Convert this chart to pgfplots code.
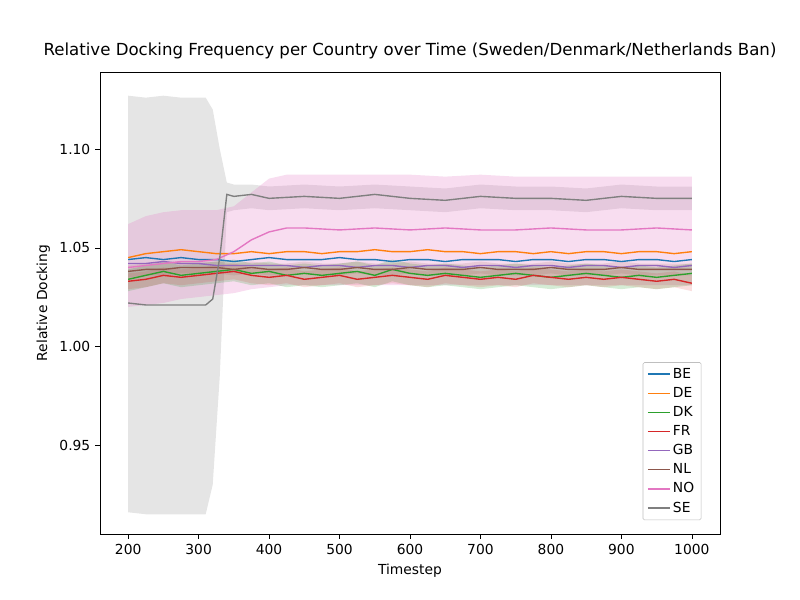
\documentclass[border=0pt]{standalone}
\usepackage{pgfplots}
\pgfplotsset{compat=1.18}
\usepackage{pgfplotstable}
\usepgfplotslibrary{fillbetween}
\usepackage{fontspec}
\setmainfont{DejaVu Sans}
\definecolor{tabblue}{HTML}{1F77B4}\definecolor{taborange}{HTML}{FF7F0E}\definecolor{tabgreen}{HTML}{2CA02C}
\definecolor{tabred}{HTML}{D62728}\definecolor{tabpurple}{HTML}{9467BD}\definecolor{tabbrown}{HTML}{8C564B}
\definecolor{tabpink}{HTML}{E377C2}\definecolor{tabgray}{HTML}{7F7F7F}
\pgfplotstableread{
x BE DE DK FR GB NL
200 1.044 1.045 1.034 1.033 1.042 1.038
225 1.045 1.047 1.036 1.034 1.042 1.039
250 1.044 1.048 1.038 1.036 1.043 1.039
275 1.045 1.049 1.036 1.035 1.042 1.040
300 1.044 1.048 1.037 1.036 1.042 1.040
325 1.044 1.047 1.038 1.037 1.041 1.040
350 1.043 1.047 1.039 1.038 1.041 1.039
375 1.044 1.048 1.037 1.036 1.041 1.040
400 1.045 1.047 1.038 1.035 1.041 1.039
425 1.044 1.048 1.036 1.036 1.041 1.039
450 1.044 1.048 1.037 1.034 1.040 1.040
475 1.044 1.047 1.036 1.035 1.041 1.039
500 1.045 1.048 1.037 1.036 1.041 1.039
525 1.044 1.048 1.038 1.034 1.040 1.040
550 1.044 1.049 1.036 1.035 1.041 1.039
575 1.043 1.048 1.039 1.036 1.041 1.039
600 1.044 1.048 1.037 1.035 1.040 1.040
625 1.044 1.049 1.036 1.034 1.041 1.039
650 1.043 1.048 1.037 1.036 1.041 1.039
675 1.044 1.048 1.036 1.035 1.040 1.039
700 1.044 1.047 1.035 1.034 1.041 1.040
725 1.044 1.048 1.036 1.035 1.041 1.039
750 1.043 1.048 1.037 1.034 1.040 1.039
775 1.044 1.047 1.036 1.036 1.041 1.039
800 1.044 1.048 1.035 1.035 1.041 1.040
825 1.043 1.047 1.036 1.034 1.040 1.039
850 1.044 1.048 1.037 1.035 1.041 1.039
875 1.044 1.048 1.036 1.034 1.041 1.039
900 1.043 1.047 1.035 1.035 1.040 1.040
925 1.044 1.048 1.036 1.034 1.041 1.039
950 1.044 1.048 1.035 1.033 1.041 1.039
975 1.043 1.047 1.036 1.034 1.040 1.039
1000 1.044 1.048 1.037 1.032 1.041 1.039
}\main
\pgfplotstableread{
x y lo hi
200 1.040 1.020 1.062
225 1.041 1.021 1.066
250 1.042 1.022 1.068
275 1.043 1.024 1.069
300 1.043 1.025 1.069
325 1.044 1.026 1.069
350 1.048 1.027 1.071
375 1.054 1.029 1.078
400 1.058 1.030 1.085
425 1.060 1.031 1.087
450 1.060 1.031 1.087
500 1.059 1.031 1.087
550 1.060 1.031 1.087
600 1.059 1.031 1.087
650 1.060 1.031 1.086
700 1.059 1.031 1.087
750 1.059 1.031 1.086
800 1.060 1.031 1.086
850 1.059 1.031 1.086
900 1.059 1.031 1.086
950 1.060 1.031 1.086
1000 1.059 1.031 1.086
}\NO
\pgfplotstableread{
x y lo hi
200 1.022 0.916 1.127
225 1.021 0.915 1.126
250 1.021 0.915 1.127
275 1.021 0.915 1.126
300 1.021 0.915 1.126
310 1.021 0.915 1.126
320 1.024 0.930 1.120
330 1.045 0.985 1.100
340 1.077 1.068 1.083
350 1.076 1.069 1.082
375 1.077 1.070 1.082
400 1.075 1.069 1.081
450 1.076 1.070 1.082
500 1.075 1.069 1.081
550 1.077 1.070 1.082
600 1.075 1.069 1.081
650 1.074 1.068 1.080
700 1.076 1.070 1.082
750 1.075 1.069 1.081
800 1.075 1.069 1.081
850 1.074 1.068 1.080
900 1.076 1.070 1.082
950 1.075 1.069 1.081
1000 1.075 1.069 1.081
}\SE
\begin{document}
\begin{tikzpicture}
\begin{axis}[scale only axis, width=6.2in, height=4.62in,
  xmin=160, xmax=1040, ymin=0.905, ymax=1.139,
  xtick={200,300,...,1000}, ytick={0.95,1.00,1.05,1.10},
  xticklabel style={/pgf/number format/.cd,1000 sep={}},
  yticklabel style={/pgf/number format/.cd,fixed,fixed zerofill,precision=2},
  /pgf/number format/assume math mode=true,
  tick align=outside, tick style={black}, major tick length=3.5pt,
  xtick pos=bottom, ytick pos=left,
  xlabel={Timestep}, ylabel={Relative Docking},
  title={\fontsize{12}{14}\selectfont Relative Docking Frequency per Country over Time (Sweden/Denmark/Netherlands Ban)},
  legend pos=south east, legend cell align=left,
  legend style={draw=black!25, rounded corners=1pt, row sep=1pt},
  legend image code/.code={\draw[#1,line width=1pt] (0cm,0cm) -- (0.55cm,0cm);},
  every axis plot/.append style={line width=1pt},
]
% bands
\addplot[draw=none, name path=seh, forget plot] table[x=x,y=hi]{\SE};
\addplot[draw=none, name path=sel, forget plot] table[x=x,y=lo]{\SE};
\addplot[tabgray, opacity=0.2, draw=none, forget plot] fill between[of=seh and sel];
\addplot[draw=none, name path=noh, forget plot] table[x=x,y=hi]{\NO};
\addplot[draw=none, name path=nol, forget plot] table[x=x,y=lo]{\NO};
\addplot[tabpink, opacity=0.25, draw=none, forget plot] fill between[of=noh and nol];
\addplot[draw=none, name path=dkh, forget plot] table[x=x,y expr=\thisrow{DK}+0.005]{\main};
\addplot[draw=none, name path=dkl, forget plot] table[x=x,y expr=\thisrow{DK}-0.006]{\main};
\addplot[tabgreen, opacity=0.2, draw=none, forget plot] fill between[of=dkh and dkl];
\addplot[draw=none, name path=frh, forget plot] table[x=x,y expr=\thisrow{FR}+0.004]{\main};
\addplot[draw=none, name path=frl, forget plot] table[x=x,y expr=\thisrow{FR}-0.004]{\main};
\addplot[tabred, opacity=0.15, draw=none, forget plot] fill between[of=frh and frl];
\addplot[draw=none, name path=nlh, forget plot] table[x=x,y expr=\thisrow{NL}+0.003]{\main};
\addplot[draw=none, name path=nll, forget plot] table[x=x,y expr=\thisrow{NL}-0.003]{\main};
\addplot[tabbrown, opacity=0.15, draw=none, forget plot] fill between[of=nlh and nll];
% lines
\addplot[color=tabblue] table[x=x,y=BE]{\main}; \addlegendentry{BE}
\addplot[color=taborange] table[x=x,y=DE]{\main}; \addlegendentry{DE}
\addplot[color=tabgreen] table[x=x,y=DK]{\main}; \addlegendentry{DK}
\addplot[color=tabred] table[x=x,y=FR]{\main}; \addlegendentry{FR}
\addplot[color=tabpurple] table[x=x,y=GB]{\main}; \addlegendentry{GB}
\addplot[color=tabbrown] table[x=x,y=NL]{\main}; \addlegendentry{NL}
\addplot[color=tabpink] table[x=x,y=y]{\NO}; \addlegendentry{NO}
\addplot[color=tabgray] table[x=x,y=y]{\SE}; \addlegendentry{SE}
\end{axis}
\path ([xshift=-1in,yshift=-0.66in]current axis.south west) rectangle ([xshift=0.8in,yshift=0.72in]current axis.north east);
\end{tikzpicture}
\end{document}
